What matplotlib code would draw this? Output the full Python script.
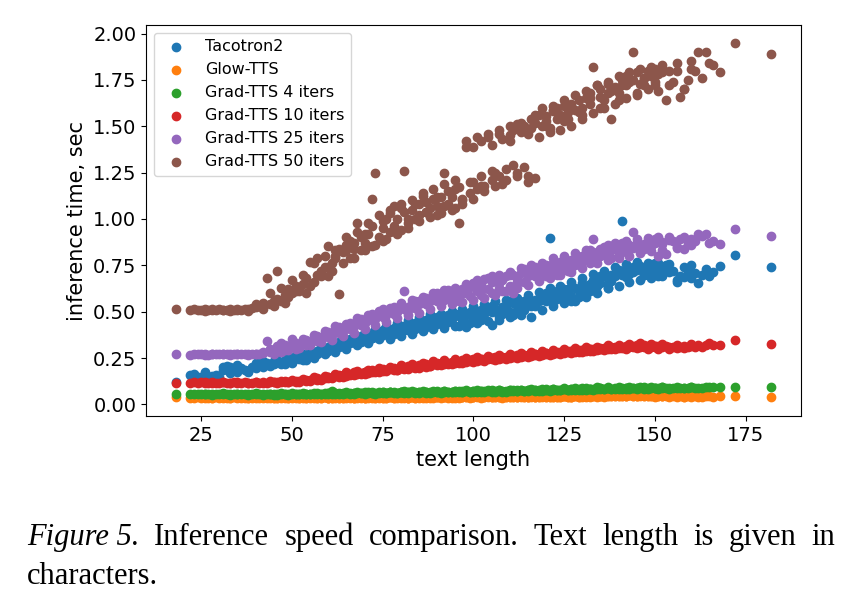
import matplotlib
matplotlib.use("Agg")
import matplotlib.pyplot as plt

# text length of each test utterance (characters)
text_len = [
    18, 22, 23, 24, 25, 26, 27, 28, 29, 30,
    31, 32, 33, 34, 35, 36, 37, 38, 39, 40,
    41, 42, 43, 44, 45, 45, 46, 47, 48, 48,
    49, 50, 51, 51, 52, 53, 54, 54, 55, 56,
    57, 57, 58, 59, 60, 60, 61, 62, 63, 63,
    64, 65, 66, 66, 67, 68, 69, 69, 70, 71,
    72, 72, 73, 74, 75, 75, 76, 77, 78, 78,
    79, 80, 81, 81, 82, 83, 84, 84, 85, 86,
    87, 87, 88, 89, 90, 90, 91, 92, 93, 93,
    94, 95, 96, 96, 97, 98, 99, 99, 100, 101,
    102, 102, 103, 104, 105, 105, 106, 107, 108, 108,
    109, 110, 111, 111, 112, 113, 114, 114, 115, 116,
    117, 117, 118, 119, 120, 120, 121, 122, 123, 123,
    124, 125, 126, 126, 127, 128, 129, 129, 130, 131,
    132, 132, 133, 134, 135, 135, 136, 137, 138, 138,
    139, 140, 141, 141, 142, 143, 144, 144, 145, 146,
    147, 147, 148, 149, 150, 150, 151, 152, 153, 154,
    155, 156, 157, 158, 159, 160, 161, 162, 164, 166,
    168, 172, 182,
    # second pass over the dense range
    26, 28, 31, 33, 35, 38, 40, 42, 44, 46,
    47, 49, 50, 52, 53, 55, 56, 58, 59, 61,
    62, 64, 65, 67, 68, 70, 71, 73, 74, 76,
    77, 79, 80, 82, 83, 85, 86, 88, 89, 91,
    92, 94, 95, 97, 98, 100, 101, 103, 104, 106,
    107, 109, 110, 112, 113, 115, 116, 118, 119, 121,
    122, 124, 125, 127, 128, 130, 131, 133, 134, 136,
    137, 139, 140, 142, 143, 145, 146, 148, 149, 151,
    152, 154, 156, 158, 160, 163, 165,
    # third pass
    60, 62, 65, 67, 70, 72, 75, 77, 80, 82,
    85, 87, 90, 92, 95, 97, 100, 102, 105, 107,
    110, 112, 115, 117, 120, 122, 125, 127, 130, 132,
    135, 137, 140, 142, 145, 147, 150, 152,
]

# inference time, sec
tacotron2 = [
    .120, .160, .165, .150, .145, .162, .140, .155, .160, .150,
    .185, .205, .200, .190, .175, .195, .185, .175, .200, .222,
    .215, .200, .225, .210, .235, .215, .270, .225, .240, .220,
    .245, .230, .250, .265, .245, .270, .255, .240, .265, .280,
    .270, .290, .285, .300, .290, .310, .300, .320, .310, .335,
    .325, .340, .330, .355, .345, .360, .335, .370, .355, .375,
    .360, .385, .370, .390, .375, .400, .385, .395, .380, .410,
    .395, .410, .400, .425, .410, .430, .405, .440, .420, .445,
    .425, .455, .440, .460, .435, .470, .450, .465, .445, .480,
    .460, .475, .425, .490, .465, .480, .440, .500, .475, .505,
    .455, .510, .485, .520, .430, .500, .515, .470, .525, .490,
    .530, .500, .545, .480, .540, .520, .560, .510, .545, .530,
    .565, .540, .555, .580, .560, .600, .897, .585, .610, .570,
    .600, .575, .620, .595, .560, .630, .610, .580, .640, .615,
    .650, .620, .670, .640, .680, .655, .690, .630, .700, .665,
    .690, .720, .990, .700, .730, .705, .740, .715, .725, .745,
    .720, .700, .735, .710, .740, .725, .690, .730, .750, .715,
    .720, .660, .690, .685, .710, .750, .710, .655, .730, .715,
    .746, .806, .743,
    .175, .140, .200, .170, .210, .180, .195, .235, .205, .240,
    .215, .260, .225, .270, .240, .290, .250, .310, .270, .330,
    .285, .350, .300, .365, .320, .390, .330, .405, .350, .420,
    .355, .440, .370, .455, .380, .470, .395, .485, .405, .490,
    .410, .505, .420, .515, .415, .530, .440, .540, .450, .555,
    .455, .565, .470, .575, .480, .590, .470, .605, .510, .625,
    .530, .640, .545, .660, .560, .680, .580, .705, .600, .720,
    .625, .740, .640, .755, .660, .770, .670, .765, .680, .760,
    .690, .755, .670, .740, .680, .700, .690,
    .300, .310, .345, .335, .370, .360, .395, .370, .420, .400,
    .445, .415, .465, .430, .490, .455, .510, .470, .530, .495,
    .555, .510, .565, .530, .590, .560, .620, .585, .655, .610,
    .690, .650, .725, .685, .745, .700, .765, .740,
]
glow_tts = [
    .040, .037, .036, .038, .036, .037, .035, .036, .038, .036,
    .037, .035, .036, .038, .036, .035, .037, .036, .035, .037,
    .036, .038, .035, .037, .036, .034, .036, .037, .035, .038,
    .036, .037, .035, .038, .036, .037, .035, .036, .038, .036,
    .037, .035, .036, .038, .037, .035, .036, .038, .036, .037,
    .035, .037, .038, .036, .037, .035, .038, .036, .037, .036,
    .038, .036, .037, .035, .038, .036, .037, .038, .036, .037,
    .038, .036, .037, .039, .036, .038, .037, .036, .039, .037,
    .038, .036, .039, .037, .038, .040, .037, .038, .036, .039,
    .038, .037, .039, .036, .038, .040, .037, .039, .038, .040,
    .039, .037, .040, .038, .039, .041, .038, .040, .039, .037,
    .040, .038, .041, .039, .040, .038, .041, .039, .040, .042,
    .040, .038, .041, .039, .042, .040, .041, .039, .042, .040,
    .041, .043, .040, .042, .041, .043, .040, .042, .044, .041,
    .043, .041, .044, .042, .043, .045, .042, .044, .043, .046,
    .044, .046, .043, .047, .045, .048, .046, .044, .047, .045,
    .044, .046, .043, .045, .044, .042, .045, .043, .044, .042,
    .043, .041, .044, .042, .043, .041, .044, .042, .043, .042,
    .043, .044, .041,
    .039, .034, .038, .033, .039, .034, .038, .033, .039, .034,
    .039, .034, .040, .035, .039, .034, .040, .035, .039, .035,
    .040, .035, .041, .035, .040, .036, .041, .036, .040, .036,
    .041, .036, .042, .037, .041, .037, .042, .037, .043, .038,
    .042, .037, .043, .038, .042, .038, .043, .038, .044, .039,
    .043, .039, .044, .039, .045, .040, .044, .040, .045, .041,
    .046, .041, .045, .042, .046, .042, .047, .043, .046, .043,
    .048, .044, .049, .045, .050, .045, .048, .044, .047, .043,
    .046, .043, .045, .042, .046, .042, .045,
    .037, .036, .038, .037, .036, .038, .037, .039, .038, .037,
    .039, .038, .040, .039, .038, .040, .041, .039, .040, .042,
    .041, .040, .042, .041, .043, .042, .044, .042, .043, .045,
    .044, .046, .045, .047, .046, .048, .045, .044,
]
grad_4 = [
    .056, .055, .054, .056, .055, .057, .054, .056, .055, .054,
    .056, .055, .057, .054, .056, .055, .054, .056, .057, .055,
    .054, .056, .055, .057, .055, .053, .056, .054, .057, .055,
    .056, .054, .057, .055, .056, .058, .055, .057, .056, .058,
    .057, .059, .056, .058, .060, .057, .072, .058, .060, .057,
    .059, .061, .058, .060, .062, .059, .061, .063, .060, .062,
    .061, .063, .060, .062, .064, .061, .063, .065, .062, .064,
    .063, .065, .062, .070, .064, .066, .063, .065, .067, .064,
    .066, .063, .067, .065, .068, .066, .064, .067, .069, .066,
    .068, .066, .070, .067, .069, .071, .068, .066, .070, .068,
    .071, .068, .070, .073, .069, .072, .070, .074, .071, .069,
    .073, .071, .075, .072, .074, .076, .073, .071, .075, .077,
    .075, .073, .077, .074, .078, .076, .079, .075, .077, .080,
    .078, .081, .077, .080, .082, .079, .081, .078, .083, .080,
    .082, .085, .081, .084, .083, .088, .082, .086, .084, .083,
    .086, .084, .087, .083, .088, .085, .087, .090, .086, .088,
    .087, .085, .089, .086, .088, .090, .086, .089, .087, .088,
    .089, .087, .090, .088, .089, .091, .088, .090, .092, .091,
    .092, .095, .095,
    .058, .052, .059, .053, .058, .052, .059, .053, .058, .052,
    .059, .053, .060, .054, .059, .054, .061, .055, .062, .055,
    .063, .056, .064, .057, .065, .058, .066, .058, .067, .059,
    .068, .060, .069, .061, .070, .061, .071, .062, .072, .063,
    .073, .064, .074, .065, .075, .066, .076, .067, .077, .068,
    .078, .069, .079, .070, .080, .071, .081, .072, .083, .074,
    .084, .075, .086, .076, .087, .078, .089, .079, .096, .081,
    .092, .082, .093, .083, .094, .084, .095, .085, .093, .084,
    .094, .085, .093, .086, .094, .087, .095,
    .060, .061, .063, .062, .064, .066, .065, .067, .066, .068,
    .069, .068, .070, .072, .071, .073, .074, .073, .076, .075,
    .077, .078, .080, .079, .082, .081, .084, .083, .086, .085,
    .087, .089, .088, .090, .089, .091, .090, .092,
]
grad_10 = [
    .117, .115, .118, .116, .119, .115, .117, .118, .116, .114,
    .118, .116, .115, .119, .117, .116, .118, .115, .117, .119,
    .117, .120, .116, .119, .122, .118, .121, .119, .124, .120,
    .123, .126, .121, .128, .125, .130, .127, .133, .131, .136,
    .134, .140, .138, .143, .150, .141, .148, .152, .156, .149,
    .158, .154, .163, .157, .166, .162, .170, .165, .174, .169,
    .178, .172, .181, .176, .187, .180, .184, .190, .186, .194,
    .188, .196, .192, .200, .195, .203, .198, .207, .201, .209,
    .204, .212, .208, .215, .219, .211, .222, .216, .225, .219,
    .228, .222, .231, .225, .234, .229, .238, .232, .241, .236,
    .244, .238, .247, .242, .250, .244, .253, .247, .255, .249,
    .258, .252, .261, .255, .263, .258, .266, .260, .268, .263,
    .271, .265, .273, .268, .276, .270, .278, .273, .281, .275,
    .283, .278, .286, .280, .289, .283, .292, .285, .294, .288,
    .297, .290, .300, .294, .302, .296, .305, .299, .307, .301,
    .310, .303, .312, .306, .314, .308, .316, .310, .318, .312,
    .315, .309, .317, .311, .314, .308, .316, .310, .313, .307,
    .311, .306, .309, .313, .308, .315, .311, .318, .322, .320,
    .322, .345, .327,
    .121, .113, .120, .114, .121, .113, .122, .114, .125, .116,
    .128, .119, .133, .122, .138, .126, .145, .132, .152, .140,
    .163, .150, .172, .157, .180, .166, .188, .174, .196, .180,
    .202, .186, .210, .191, .216, .198, .224, .205, .232, .210,
    .238, .215, .244, .221, .250, .228, .257, .234, .262, .240,
    .268, .245, .272, .250, .277, .255, .282, .260, .287, .265,
    .292, .270, .297, .275, .302, .280, .307, .286, .312, .291,
    .318, .296, .322, .300, .328, .303, .330, .300, .326, .298,
    .324, .300, .322, .305, .326, .310, .330,
    .148, .160, .162, .172, .175, .186, .190, .196, .198, .205,
    .212, .218, .222, .228, .232, .237, .242, .246, .252, .256,
    .260, .264, .268, .272, .276, .280, .284, .288, .293, .297,
    .300, .304, .308, .312, .314, .318, .316, .320,
]
grad_25 = [
    .270, .268, .271, .269, .270, .272, .268, .270, .271, .269,
    .270, .272, .268, .271, .270, .273, .269, .271, .272, .270,
    .272, .276, .340, .281, .290, .274, .300, .285, .320, .292,
    .305, .318, .300, .330, .315, .335, .320, .345, .330, .350,
    .340, .370, .355, .380, .365, .390, .372, .400, .385, .415,
    .395, .420, .405, .440, .425, .445, .430, .460, .440, .470,
    .455, .485, .460, .500, .470, .515, .480, .505, .490, .525,
    .500, .530, .515, .610, .525, .545, .520, .560, .540, .555,
    .540, .575, .555, .585, .560, .600, .570, .590, .575, .615,
    .580, .610, .590, .560, .620, .600, .635, .585, .640, .610,
    .650, .590, .675, .620, .660, .600, .680, .630, .670, .610,
    .690, .640, .700, .600, .680, .710, .660, .730, .690, .720,
    .700, .740, .710, .730, .690, .750, .720, .760, .730, .700,
    .770, .740, .760, .720, .780, .750, .790, .760, .775, .800,
    .780, .830, .820, .790, .840, .800, .815, .860, .830, .790,
    .840, .810, .850, .870, .830, .860, .930, .845, .870, .835,
    .865, .840, .880, .855, .870, .890, .800, .875, .810, .885,
    .880, .850, .890, .840, .870, .890, .880, .920, .920, .880,
    .865, .946, .906,
    .268, .272, .269, .271, .270, .268, .272, .285, .300, .315,
    .330, .295, .350, .305, .355, .320, .375, .335, .395, .345,
    .420, .370, .435, .385, .465, .405, .480, .430, .505, .445,
    .520, .465, .545, .480, .565, .495, .580, .515, .600, .530,
    .615, .540, .630, .550, .650, .565, .670, .575, .680, .590,
    .700, .610, .715, .625, .735, .645, .750, .665, .765, .680,
    .790, .700, .800, .715, .815, .735, .835, .890, .760, .850,
    .780, .870, .790, .880, .800, .890, .815, .895, .825, .900,
    .835, .900, .845, .905, .860, .910, .870,
    .380, .395, .410, .430, .450, .470, .490, .505, .530, .510,
    .560, .545, .590, .565, .615, .600, .655, .620, .690, .655,
    .700, .660, .725, .690, .745, .705, .775, .735, .800, .760,
    .820, .795, .850, .820, .870, .845, .880, .865,
]
grad_50 = [
    .515, .510, .512, .508, .510, .513, .507, .511, .509, .512,
    .508, .511, .506, .510, .513, .507, .512, .515, .520, .525,
    .530, .515, .680, .540, .555, .530, .720, .560, .590, .545,
    .620, .600, .640, .610, .625, .650, .600, .680, .770, .660,
    .790, .700, .720, .740, .855, .690, .760, .800, .595, .840,
    .820, .860, .790, .880, .840, .980, .830, .900, .870, .920,
    .855, 1.107, 1.250, .900, .950, .880, 1.000, .930, 1.070, .960,
    1.000, .940, 1.035, 1.260, .980, 1.050, 1.000, 1.080, 1.020, 1.125,
    1.040, 1.090, 1.060, 1.110, 1.070, 1.020, 1.120, 1.250, 1.080, 1.150,
    1.120, 1.060, .980, 1.170, 1.100, 1.390, 1.140, 1.200, 1.390, 1.160,
    1.230, 1.420, 1.180, 1.440, 1.210, 1.400, 1.250, 1.460, 1.190, 1.430,
    1.270, 1.450, 1.290, 1.480, 1.230, 1.470, 1.280, 1.500, 1.200, 1.490,
    1.220, 1.520, 1.560, 1.500, 1.555, 1.530, 1.470, 1.580, 1.540, 1.600,
    1.560, 1.610, 1.575, 1.540, 1.620, 1.590, 1.575, 1.640, 1.600, 1.650,
    1.620, 1.680, 1.820, 1.720, 1.660, 1.700, 1.640, 1.730, 1.540, 1.690,
    1.710, 1.680, 1.750, 1.720, 1.770, 1.740, 1.900, 1.750, 1.790, 1.730,
    1.760, 1.720, 1.800, 1.770, 1.740, 1.810, 1.780, 1.810, 1.640, 1.800,
    1.740, 1.800, 1.660, 1.700, 1.750, 1.810, 1.800, 1.900, 1.900, 1.830,
    1.790, 1.950, 1.890,
    .505, .512, .510, .514, .508, .505, .540, .545, .600, .570,
    .630, .580, .670, .610, .700, .640, .760, .690, .800, .720,
    .830, .760, .900, .790, .930, .830, .980, .860, 1.020, .890,
    1.050, .920, 1.080, .950, 1.100, .990, 1.140, 1.010, 1.160, 1.030,
    1.190, 1.050, 1.210, 1.080, 1.420, 1.110, 1.440, 1.150, 1.460, 1.180,
    1.480, 1.210, 1.500, 1.250, 1.520, 1.230, 1.540, 1.440, 1.600, 1.490,
    1.610, 1.480, 1.640, 1.500, 1.670, 1.540, 1.690, 1.570, 1.720, 1.600,
    1.740, 1.620, 1.770, 1.650, 1.790, 1.670, 1.810, 1.700, 1.820, 1.690,
    1.830, 1.720, 1.840, 1.700, 1.850, 1.760, 1.840,
    .740, .790, .830, .870, .920, .960, .990, 1.030, 1.060, 1.000,
    1.080, 1.040, 1.120, 1.070, 1.160, 1.110, 1.200, 1.180, 1.260, 1.230,
    1.420, 1.510, 1.460, 1.560, 1.500, 1.590, 1.530, 1.610, 1.560, 1.650,
    1.600, 1.680, 1.640, 1.720, 1.680, 1.760, 1.720, 1.790,
]

series = [
    ("Tacotron2", tacotron2),
    ("Glow-TTS", glow_tts),
    ("Grad-TTS 4 iters", grad_4),
    ("Grad-TTS 10 iters", grad_10),
    ("Grad-TTS 25 iters", grad_25),
    ("Grad-TTS 50 iters", grad_50),
]
y_ticks = [0.0, 0.25, 0.5, 0.75, 1.0, 1.25, 1.5, 1.75, 2.0]

caption_words = [
    ("Figure 5.", "italic"), ("Inference", "normal"), ("speed", "normal"),
    ("comparison.", "normal"), ("Text", "normal"), ("length", "normal"),
    ("is", "normal"), ("given", "normal"), ("in", "normal"),
]
caption_line2 = "characters."


def justified_line(fig, words, x0, x1, y, **kw):
    # place words so that the line fills x0..x1 (figure pixels)
    r = fig.canvas.get_renderer()
    W = fig.bbox.width
    texts, widths = [], []
    for w, style in words:
        t = fig.text(0, y, w, style=style, va="baseline", **kw)
        texts.append(t)
        widths.append(t.get_window_extent(r).width)
    gap = (x1 - x0 - sum(widths)) / (len(words) - 1)
    x = x0
    for t, wd in zip(texts, widths):
        t.set_x(x / W)
        x += wd + gap


fig = plt.figure(figsize=(8.6, 6.1), dpi=100)
ax = fig.add_axes([0.1698, 0.318, 0.7613, 0.641])
for label, ys in series:
    ax.scatter(text_len, ys, label=label)

ax.set_yticks(y_ticks)
ax.yaxis.set_major_formatter(matplotlib.ticker.FormatStrFormatter("%.2f"))
ax.tick_params(labelsize=14)
ax.set_xlabel("text length", fontsize=15)
ax.set_ylabel("inference time, sec", fontsize=15)
ax.legend(loc="upper left", fontsize=11.5)

cap_font = dict(family="Liberation Serif", fontsize=22)
justified_line(fig, caption_words, 27, 835, (610 - 545) / 610, **cap_font)
fig.text(27 / 860, (610 - 584) / 610, caption_line2, va="baseline", **cap_font)

fig.savefig("out.png", dpi=100)
